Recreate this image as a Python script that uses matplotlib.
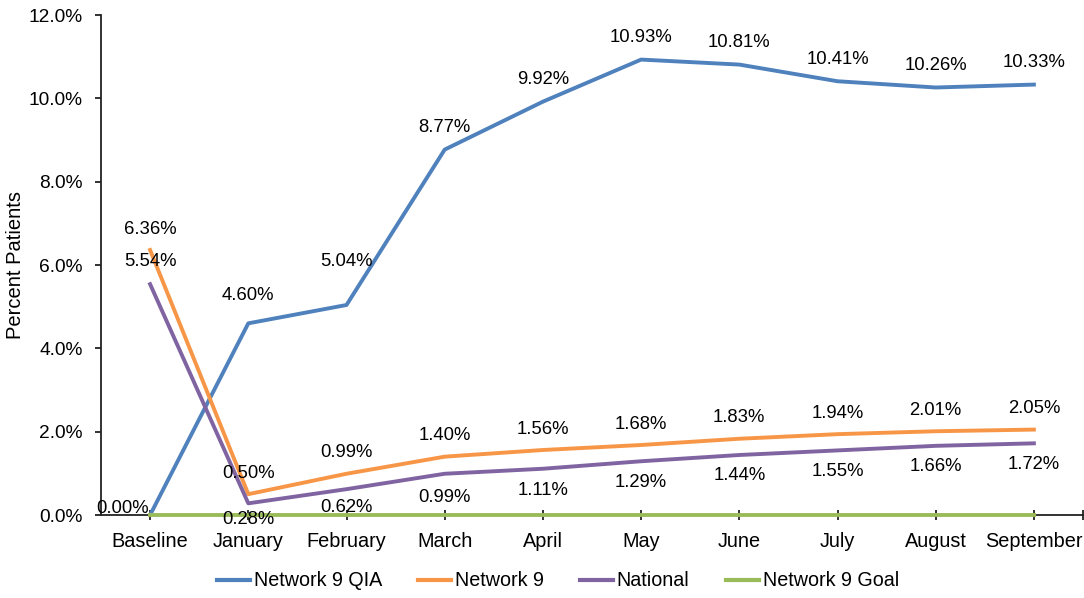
import numpy as np
import matplotlib.pyplot as plt
from matplotlib.ticker import FuncFormatter

plt.rcParams['font.family'] = ['Liberation Sans', 'DejaVu Sans']

months = ["Baseline", "January", "February", "March", "April", "May",
          "June", "July", "August", "September"]
qia = [0.00, 4.60, 5.04, 8.77, 9.92, 10.93, 10.81, 10.41, 10.26, 10.33]
network9 = [6.36, 0.50, 0.99, 1.40, 1.56, 1.68, 1.83, 1.94, 2.01, 2.05]
national = [5.54, 0.28, 0.62, 0.99, 1.11, 1.29, 1.44, 1.55, 1.66, 1.72]
goal = [0.0] * 10

c_qia = "#4F81BD"
c_n9 = "#F79646"
c_nat = "#8064A2"
c_goal = "#9BBB59"


def label_points(ax, xs, ys, offsets):
    for x, y, off in zip(xs, ys, offsets):
        ax.annotate("{:.2f}%".format(y), (x, y), xytext=(0, off),
                    textcoords="offset points", ha="center", va="center",
                    fontsize=13.3, color="black", zorder=6)


fig = plt.figure(figsize=(10.84, 5.98), dpi=100)
ax = fig.add_axes([101 / 1084, 1 - 515 / 598, 982 / 1084, 500 / 598])

x = np.arange(len(months))
lw = 2.8
ax.plot(x, qia, color=c_qia, lw=lw, label="Network 9 QIA", zorder=3)
ax.plot(x, network9, color=c_n9, lw=lw, label="Network 9", zorder=3)
ax.plot(x, national, color=c_nat, lw=lw, label="National", zorder=3)
ax.plot(x, goal, color=c_goal, lw=lw, label="Network 9 Goal", zorder=4,
        clip_on=False)

# data labels (Excel positions: above / below, some nudged by hand)
label_points(ax, x[1:], qia[1:], [20, 31, 16, 16, 16, 16, 16, 16, 16])
ax.annotate("0.00%", (0, qia[0]), xytext=(-1, 5), textcoords="offset points",
            ha="right", va="center", fontsize=13.3, zorder=6)
label_points(ax, x, network9, [15] * 10)
label_points(ax, x[:1], national[:1], [16])
label_points(ax, x[1:], national[1:], [-12, -13, -17, -16, -15, -15, -15, -15, -15])

ax.set_xlim(-0.5, 9.5)
ax.set_ylim(0, 12)
ax.set_yticks(np.arange(0, 12.1, 2))
ax.yaxis.set_major_formatter(FuncFormatter(lambda v, p: "{:.1f}%".format(v)))
ax.set_xticks(x)
ax.set_xticklabels(months)
ax.set_xticks([9.5], minor=True)

for side in ["top", "right"]:
    ax.spines[side].set_visible(False)
for side in ["left", "bottom"]:
    ax.spines[side].set_color("#222222")
    ax.spines[side].set_linewidth(1.3)

ax.tick_params(axis="y", direction="out", length=4, width=1.3,
               color="#222222", pad=9, labelsize=13.8)
ax.tick_params(axis="x", which="both", direction="inout", length=7,
               width=1.3, color="#222222", pad=9, labelsize=14.3)

ax.set_ylabel("Percent Patients", fontsize=14.5, labelpad=3)

leg = fig.legend(loc="center", bbox_to_anchor=(558 / 1084, 1 - 581 / 598),
                 ncol=4, frameon=False, fontsize=14.2, handlelength=1.65,
                 handletextpad=0.2, columnspacing=1.85)
for line in leg.get_lines():
    line.set_linewidth(3.0)

fig.savefig("out.png", dpi=100)
